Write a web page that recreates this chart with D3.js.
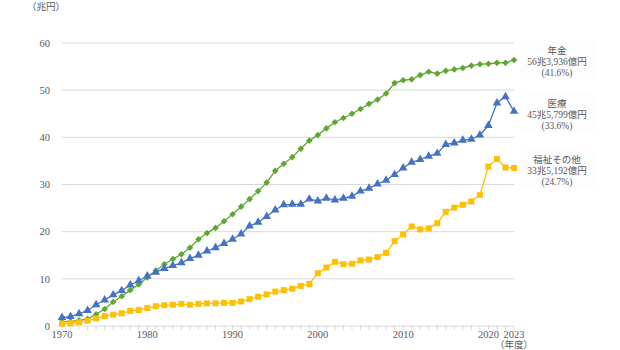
<!DOCTYPE html>
<html><head><meta charset="utf-8">
<script src="https://cdn.jsdelivr.net/npm/d3@7"></script>
<style>
body{margin:0;background:#fff;}
</style></head>
<body><svg id="c" width="620" height="350"></svg>
<script>
const years = d3.range(1970, 2024);
const pension = [0.9,1.0,1.2,1.5,2.5,3.6,5.1,6.3,7.6,8.8,10.3,11.7,13.1,14.2,15.2,16.6,18.4,19.7,20.8,22.2,23.7,25.3,26.9,28.6,30.4,32.9,34.4,35.8,37.6,39.3,40.5,41.9,43.2,44.1,45.0,46.0,47.1,48.0,49.3,51.5,52.1,52.3,53.2,53.9,53.5,54.1,54.4,54.7,55.2,55.5,55.6,55.8,55.8,56.4];
const medical = [1.8,2.0,2.6,3.3,4.5,5.5,6.6,7.5,8.7,9.6,10.6,11.4,12.2,12.8,13.4,14.3,15.0,15.9,16.6,17.5,18.4,19.5,21.2,22.0,23.2,24.6,25.7,25.8,25.8,26.9,26.5,27.1,26.7,27.1,27.5,28.6,29.2,30.1,30.9,32.1,33.5,34.7,35.3,36.0,36.6,38.5,38.8,39.4,39.6,40.5,42.5,47.3,48.6,45.5];
const welfare = [0.5,0.6,0.8,1.1,1.6,2.1,2.4,2.7,3.2,3.4,3.8,4.2,4.4,4.5,4.7,4.5,4.7,4.8,4.8,4.9,4.9,5.2,5.7,6.2,6.7,7.3,7.6,7.9,8.5,8.9,11.2,12.4,13.6,13.1,13.2,13.9,14.1,14.6,15.5,18.0,19.4,21.1,20.5,20.7,21.8,24.2,25.1,25.7,26.4,27.8,33.8,35.4,33.6,33.5];
const yTicks = [0,10,20,30,40,50,60];
const xLabels = [1970,1980,1990,2000,2010,2020,2023];
const seriesNames = ["年金","医療","福祉その他"];
const seriesAmounts = ["56兆3,936億円","45兆5,799億円","33兆5,192億円"];
const seriesShares = ["(41.6%)","(33.6%)","(24.7%)"];

const FONT = "'Liberation Serif','DejaVu Serif','Noto Sans CJK JP',serif";
const svg = d3.select("#c").attr("font-family", FONT);
const x = d3.scaleLinear().domain([1970,2023]).range([62,514]);
const y = d3.scaleLinear().domain([0,60]).range([326,43]);

svg.append("g").selectAll("line").data(yTicks.filter(d=>d>0)).join("line")
  .attr("x1",62).attr("x2",514).attr("y1",d=>y(d)).attr("y2",d=>y(d))
  .attr("stroke","#d9d9d9").attr("stroke-width",1);
svg.append("line").attr("x1",62).attr("x2",514).attr("y1",y(0)).attr("y2",y(0))
  .attr("stroke","#d9d9d9").attr("stroke-width",1);
svg.append("g").selectAll("line").data(years).join("line")
  .attr("x1",d=>x(d)).attr("x2",d=>x(d)).attr("y1",y(0)).attr("y2",y(0)+4)
  .attr("stroke","#d9d9d9").attr("stroke-width",1);

svg.append("g").selectAll("text").data(yTicks).join("text")
  .attr("x",50).attr("y",d=>y(d)).attr("dy","0.35em").attr("text-anchor","end")
  .attr("font-family",FONT).attr("fill","#595959")
  .attr("font-size",10.5).text(d=>d);
svg.append("text").attr("x",46).attr("y",10).attr("text-anchor","middle")
  .attr("font-family",FONT).attr("fill","#595959")
  .attr("font-size",9.5).text("（兆円）");

svg.append("g").selectAll("text").data(xLabels).join("text")
  .attr("x",d=>x(d)).attr("y",338).attr("text-anchor","middle")
  .attr("font-family",FONT).attr("fill","#595959")
  .attr("font-size",10.5).text(d=>d);
svg.append("text").attr("x",x(2023)).attr("y",348).attr("text-anchor","middle")
  .attr("font-family",FONT).attr("fill","#595959")
  .attr("font-size",9.5).text("（年度）");

const series = [
  {vals: pension, color:"#5fa733", sym:d3.symbolSquare, size:22, rot:45},
  {vals: medical, color:"#4472c4", sym:d3.symbolTriangle, size:32, rot:0},
  {vals: welfare, color:"#ffc000", sym:d3.symbolSquare, size:36, rot:0}
];
const line = d3.line().x((d,i)=>x(years[i])).y(d=>y(d));
series.forEach(s=>{
  const g = svg.append("g");
  g.append("path").attr("d",line(s.vals)).attr("fill","none")
    .attr("stroke",s.color).attr("stroke-width",1.3);
  g.selectAll("path.m").data(s.vals).join("path").attr("class","m")
    .attr("transform",(d,i)=>`translate(${x(years[i])},${y(d)}) rotate(${s.rot})`)
    .attr("d",d3.symbol().type(s.sym).size(s.size)).attr("fill",s.color);
});

const labelY = [50,103,159];
seriesNames.forEach((n,i)=>{
  const g = svg.append("g");
  g.append("rect").attr("x",521).attr("y",labelY[i]-9).attr("width",74).attr("height",38)
    .attr("fill","#fdfdfd");
  [n, seriesAmounts[i], seriesShares[i]].forEach((t,j)=>{
    g.append("text").attr("x",557).attr("y",labelY[i]+3.5+j*11).attr("text-anchor","middle")
      .attr("font-family",FONT).attr("fill","#595959")
      .attr("font-size",9.5).text(t);
  });
});
</script></body></html>
